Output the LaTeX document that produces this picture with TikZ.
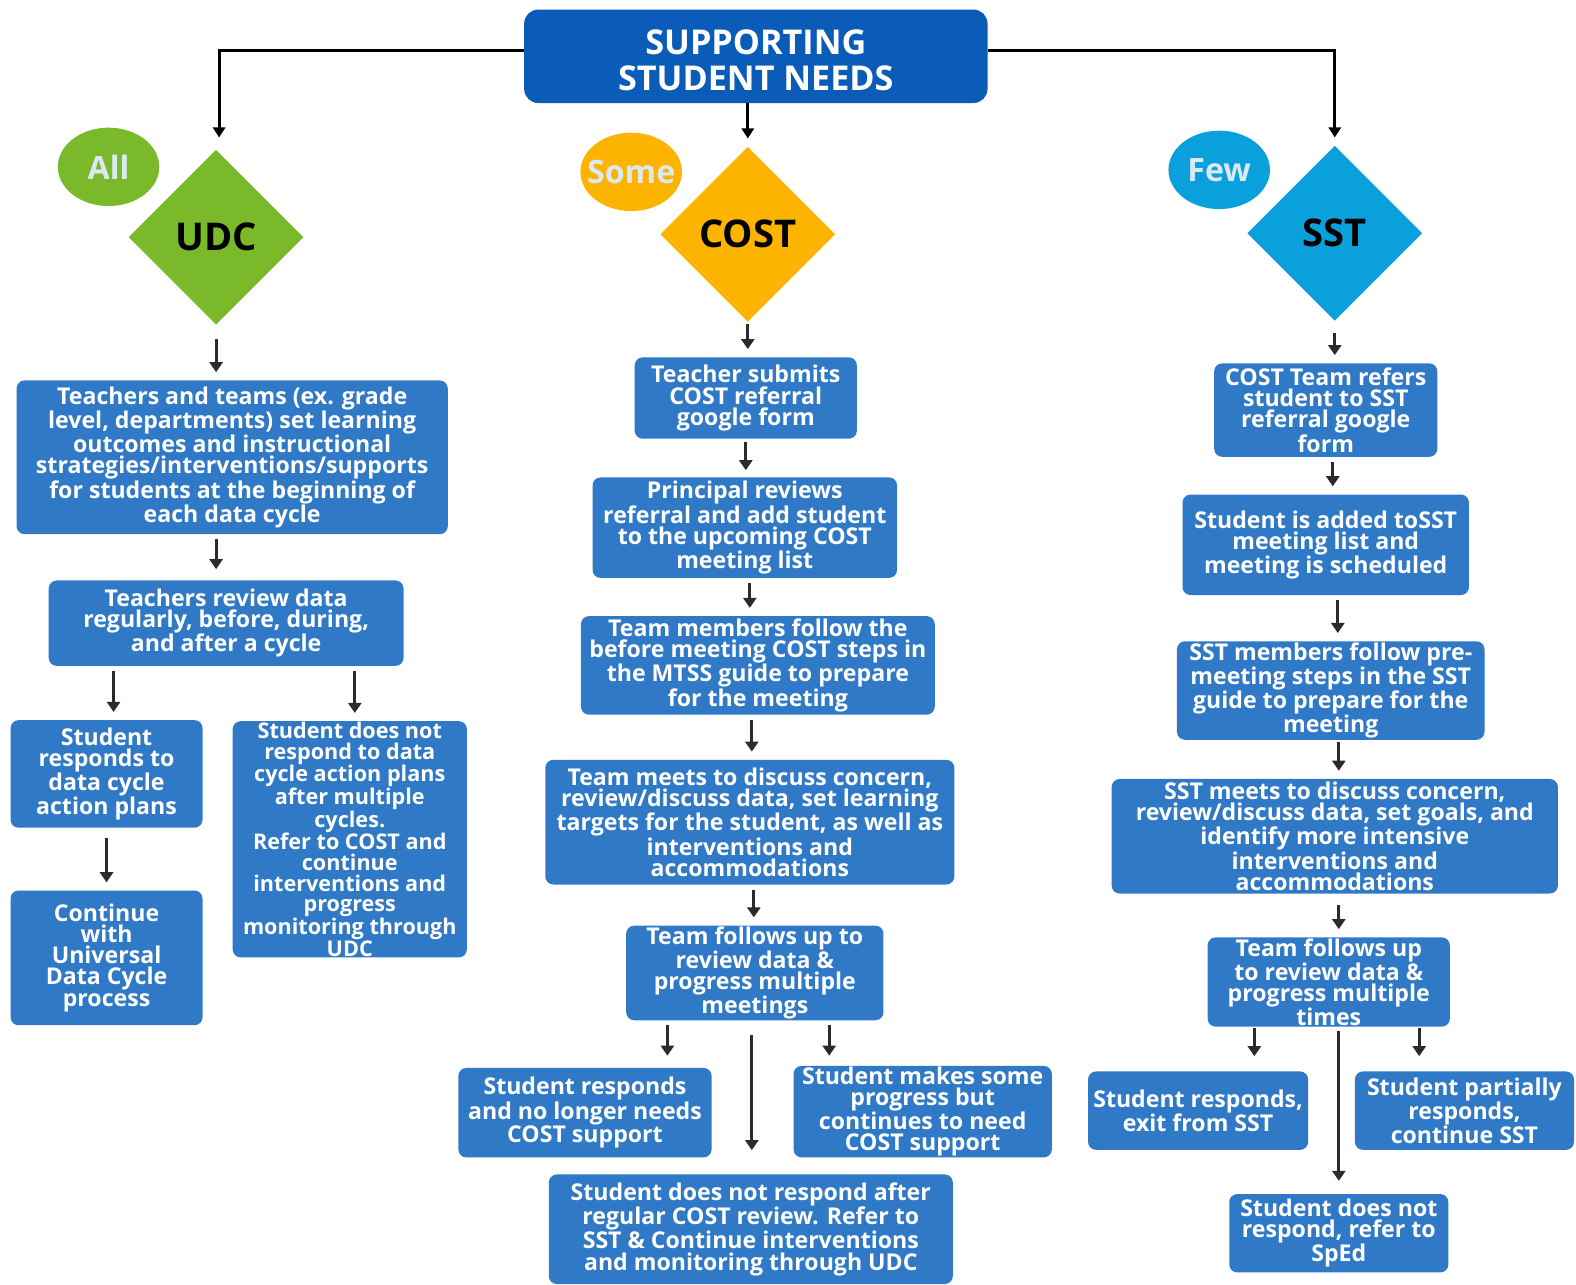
\documentclass[tikz,border=0pt]{standalone}
\usepackage{fontspec}
\setmainfont{Open Sans}
\usepackage{xcolor}
\usetikzlibrary{shapes.geometric,arrows.meta}
\definecolor{titleblue}{HTML}{0A5CB8}
\definecolor{boxblue}{HTML}{3079C6}
\definecolor{udcgreen}{HTML}{7AB929}
\definecolor{costorange}{HTML}{FDB400}
\definecolor{sstblue}{HTML}{0AA0DC}
\definecolor{paletext}{HTML}{DCE9F5}
\definecolor{arrowgray}{HTML}{2B2B2B}
\begin{document}
\begin{tikzpicture}[x=1pt, y=-1pt,
  box/.style={fill=boxblue, rounded corners=8pt, text=white, align=center, inner sep=1pt, font=\bfseries\fontsize{23}{21}\selectfont},
  dia/.style={diamond, aspect=1, inner sep=0pt, minimum width=174pt, minimum height=174pt, font=\bfseries\fontsize{38}{38}\selectfont},
  tag/.style={ellipse, inner sep=0pt, minimum width=101pt, minimum height=78pt, text=paletext, font=\bfseries\fontsize{32}{32}\selectfont},
  arr/.style={draw=arrowgray, line width=2.8pt, -{Triangle[width=13pt,length=10pt]}, shorten <=5pt, shorten >=8pt},
  link/.style={draw=black, line width=3pt, -{Triangle[width=12pt,length=10pt]}}]
\useasboundingbox (0,0) rectangle (1568,1278);

\node[fill=titleblue, rounded corners=14pt, minimum width=461pt, minimum height=93pt] (title) at (752,56) {};
\node[text=white, align=center, font=\bfseries\fontsize{34}{35}\selectfont] (titletext) at (752,60) {SUPPORTING\\ STUDENT NEEDS};

% the three tiers
\node[dia, fill=udcgreen] (udc) at (215,236) {UDC};
\node[tag, fill=udcgreen] (all) at (108,166) {\makebox[0pt]{All}};
\node[dia, fill=costorange] (cost) at (744,233) {COST};
\node[tag, fill=costorange] (some) at (628,171) {\makebox[0pt]{Some}};
\node[dia, fill=sstblue] (sst) at (1328,232) {SST};
\node[tag, fill=sstblue] (few) at (1213,169) {\makebox[0pt]{Few}};

% UDC column
\node[box, minimum width=429pt, minimum height=153pt] (b1) at (231,455) {Teachers and teams (ex. grade\\ level, departments) set learning\\ outcomes and instructional\\ strategies/interventions/supports\\ for students at the beginning of\\ each data cycle};
\node[box, minimum width=353pt, minimum height=85pt] (b2) at (225,620) {Teachers review data\\ regularly, before, during,\\ and after a cycle};
\node[box, minimum width=191pt, minimum height=107pt] (b3) at (106,770) {Student\\ responds to\\ data cycle\\ action plans};
\node[box, minimum width=233pt, minimum height=234pt, font=\bfseries\fontsize{21.5}{20.5}\selectfont] (b4) at (348,835) {Student does not\\ respond to data\\ cycle action plans\\ after multiple\\ cycles.\\ Refer to COST and\\ continue\\ interventions and\\ progress\\ monitoring through\\ UDC};
\node[box, minimum width=191pt, minimum height=134pt] (b5) at (106,953) {Continue\\ with\\ Universal\\ Data Cycle\\ process};

% COST column
\node[box, minimum width=221pt, minimum height=81pt] (c1) at (742,396) {Teacher submits\\ COST referral\\ google form};
\node[box, minimum width=303pt, minimum height=100pt] (c2) at (741,525) {Principal reviews\\ referral and add student\\ to the upcoming COST\\ meeting list};
\node[box, minimum width=352pt, minimum height=98pt] (c3) at (754,662) {Team members follow the\\ before meeting COST steps in\\ the MTSS guide to prepare\\ for the meeting};
\node[box, minimum width=407pt, minimum height=124pt] (c4) at (746,818) {Team meets to discuss concern,\\ review/discuss data, set learning\\ targets for the student, as well as\\ interventions and\\ accommodations};
\node[box, minimum width=256pt, minimum height=91pt] (c5) at (751,968) {Team follows up to\\ review data \&\\ progress multiple\\ meetings};
\node[box, minimum width=252pt, minimum height=89pt] (c6) at (582,1107) {Student responds\\ and no longer needs\\ COST support};
\node[box, minimum width=257pt, minimum height=91pt] (c7) at (918,1106) {Student makes some\\ progress but\\ continues to need\\ COST support};
\node[box, minimum width=402pt, minimum height=109pt] (c8) at (747,1223) {Student does not respond after\\ regular COST review. Refer to\\ SST \& Continue interventions\\ and monitoring through UDC};

% SST column
\node[box, minimum width=222pt, minimum height=93pt] (r1) at (1319,408) {COST Team refers\\ student to SST\\ referral google\\ form};
\node[box, minimum width=285pt, minimum height=100pt] (r2) at (1319,542) {Student is added toSST\\ meeting list and\\ meeting is scheduled};
\node[box, minimum width=306pt, minimum height=98pt] (r3) at (1324,687) {SST members follow pre-\\ meeting steps in the SST\\ guide to prepare for the\\ meeting};
\node[box, minimum width=444pt, minimum height=114pt] (r4) at (1328,832) {SST meets to discuss concern,\\ review/discuss data, set goals, and\\ identify more intensive\\ interventions and\\ accommodations};
\node[box, minimum width=241pt, minimum height=87pt] (r5) at (1322,977) {Team follows up\\ to review data \&\\ progress multiple\\ times};
\node[box, minimum width=219pt, minimum height=78pt] (r6) at (1192,1105) {Student responds,\\ exit from SST};
\node[box, minimum width=218pt, minimum height=78pt] (r7) at (1457,1105) {Student partially\\ responds,\\ continue SST};
\node[box, minimum width=218pt, minimum height=78pt] (r8) at (1332,1227) {Student does not\\ respond, refer to\\ SpEd};

% from the title
\draw[link, shorten >=12pt] ([yshift=6pt]title.west) -| ([xshift=3pt]udc.north);
\draw[link, shorten >=8pt] (title.south -| cost.north) -- (cost.north);
\draw[link, shorten >=8pt] ([yshift=6pt]title.east) -| (sst.north);

% UDC arrows
\draw[arr, shorten <=14pt] (udc.south) -- (udc.south |- b1.north);
\draw[arr, shorten >=11pt] (b1.south -| udc.south) -- (b2.north -| udc.south);
\draw[arr] ([xshift=7pt]b2.south -| b3.north) -- ([xshift=7pt]b3.north);
\draw[arr] ([xshift=5pt]b2.south -| b4.north) -- ([xshift=5pt]b4.north);
\draw[arr, shorten <=10pt] (b3.south) -- (b5.north);

% COST arrows
\draw[arr, shorten <=2pt] (cost.south) -- (cost.south |- c1.north);
\draw[arr, shorten <=3pt, shorten >=7pt] (c1.south) -- (c1.south |- c2.north);
\draw[arr] ([xshift=5pt]c2.south) -- ([xshift=5pt]c2.south |- c3.north);
\draw[arr] ([xshift=-6pt]c3.south) -- ([xshift=-6pt]c3.south |- c4.north);
\draw[arr] ([xshift=4pt]c4.south) -- ([xshift=4pt]c4.south |- c5.north);
\draw[arr, shorten >=12pt] ([xshift=-87pt]c5.south) -- ([xshift=-87pt]c5.south |- c6.north);
\draw[arr, shorten >=10pt] ([xshift=74pt]c5.south) -- ([xshift=74pt]c5.south |- c7.north);
\draw[arr, shorten <=14pt, shorten >=24pt] ([xshift=-3pt]c5.south) -- ([xshift=-3pt]c5.south |- c8.north);

% SST arrows
\draw[arr, shorten <=12pt] (sst.south) -- (sst.south |- r1.north);
\draw[arr] ([xshift=7pt]r1.south) -- ([xshift=7pt]r1.south |- r2.north);
\draw[arr] ([xshift=12pt]r2.south) -- ([xshift=12pt]r2.south |- r3.north);
\draw[arr, shorten <=2pt] ([xshift=8pt]r3.south) -- ([xshift=8pt]r3.south |- r4.north);
\draw[arr, shorten <=11pt] ([xshift=4pt]r4.south) -- ([xshift=4pt]r4.south |- r5.north);
\draw[arr, shorten <=1pt, shorten >=15pt] ([xshift=-74pt]r5.south) -- ([xshift=-74pt]r5.south |- r6.north);
\draw[arr, shorten <=1pt, shorten >=15pt] ([xshift=90pt]r5.south) -- ([xshift=90pt]r5.south |- r7.north);
\draw[arr, shorten <=4pt, shorten >=13pt] (r8.north |- r5.south) -- (r8.north);
\end{tikzpicture}
\end{document}
